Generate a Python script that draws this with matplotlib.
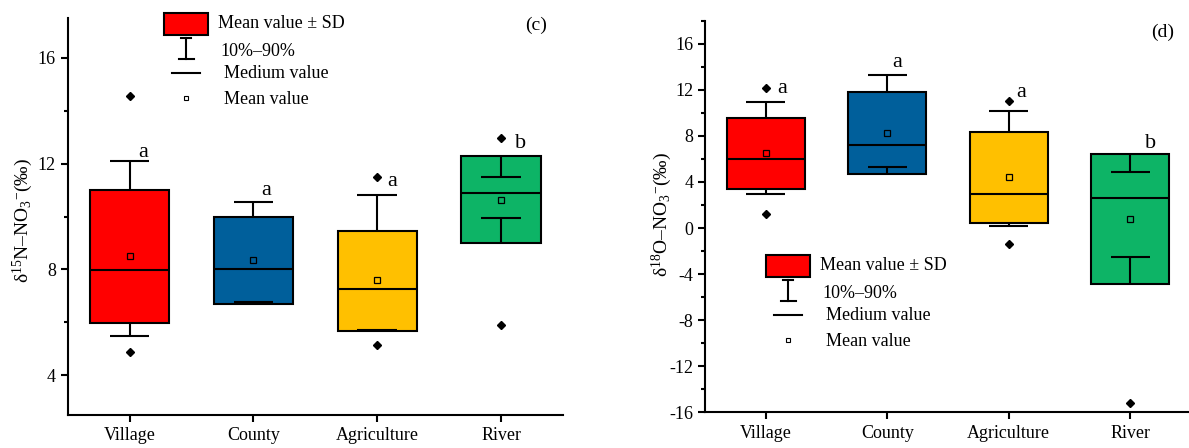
import matplotlib
matplotlib.use('Agg')
import matplotlib.pyplot as plt
from matplotlib.patches import Rectangle
from matplotlib.lines import Line2D
from matplotlib.ticker import MultipleLocator
from matplotlib.transforms import Affine2D

plt.rcParams['font.family'] = ['Liberation Serif', 'DejaVu Serif']
plt.rcParams['mathtext.fontset'] = 'custom'
plt.rcParams['mathtext.rm'] = 'Liberation Serif'
plt.rcParams['mathtext.it'] = 'Liberation Serif:italic'
plt.rcParams['axes.unicode_minus'] = False

# ---- data ----
categories = ['Village', 'County', 'Agriculture', 'River']
box_colors = ['#FF0000', '#005F9B', '#FFC000', '#0DB466']

# (c) d15N-NO3
n_q1 = [5.97, 6.71, 5.68, 8.99]
n_q3 = [11.00, 9.98, 9.47, 12.30]
n_med = [7.97, 8.03, 7.25, 10.88]
n_mean = [8.49, 8.34, 7.59, 10.63]
n_p10 = [5.49, 6.77, 5.71, 9.94]
n_p90 = [12.09, 10.55, 10.80, 11.51]
n_out = [[14.55, 4.87], [], [11.49, 5.15], [12.98, 5.91]]
n_letters = ['a', 'a', 'a', 'b']
n_letter_y = [12.26, 10.80, 11.17, 12.60]
n_letter_dx = [0.11, 0.10, 0.12, 0.16]

# (d) d18O-NO3
o_q1 = [3.36, 4.72, 0.46, -4.84]
o_q3 = [9.54, 11.83, 8.38, 6.41]
o_med = [5.97, 7.25, 2.99, 2.58]
o_mean = [6.49, 8.29, 4.41, 0.75]
o_p10 = [2.96, 5.28, 0.14, -2.55]
o_p90 = [10.96, 13.33, 10.17, 4.84]
o_out = [[12.12, 1.19], [], [10.99, -1.39], [-15.22]]
o_letters = ['a', 'a', 'a', 'b']
o_letter_y = [11.74, 13.97, 11.36, 6.96]
o_letter_dx = [0.135, 0.085, 0.105, 0.165]

W, H = 1189, 448
fig = plt.figure(figsize=(W / 100, H / 100), dpi=100)
ax1 = fig.add_axes([0.0569, 0.0737, 0.4166, 0.886])
ax2 = fig.add_axes([0.5929, 0.0797, 0.4088, 0.874])

# pixel coords (origin top-left, like the reference image)
px = Affine2D().scale(1 / W, -1 / H).translate(0, 1) + fig.transFigure

BW = 0.64   # box width
CW = 0.32   # cap width
LW = 1.5


def draw_boxes(ax, q1, q3, med, mean, p10, p90, outl, letters, ly, ldx):
    xs = list(range(1, len(categories) + 1))
    for i, x in enumerate(xs):
        ax.bar(x, q3[i] - q1[i], bottom=q1[i], width=BW, color=box_colors[i],
               edgecolor='black', linewidth=LW, zorder=2)
        # whiskers from box edge to 10/90 %
        ax.vlines(x, q3[i], p90[i], color='black', lw=LW, zorder=3)
        ax.vlines(x, q1[i], p10[i], color='black', lw=LW, zorder=3)
        ax.hlines([p10[i], p90[i]], x - CW / 2, x + CW / 2, color='black', lw=LW, zorder=3)
        ax.hlines(med[i], x - BW / 2, x + BW / 2, color='black', lw=LW, zorder=3)
        ax.plot(x, mean[i], marker='s', ms=5, mfc='none', mec='black', mew=0.9, zorder=4)
        if outl[i]:
            ax.plot([x] * len(outl[i]), outl[i], 'D', color='black', ms=4, zorder=4)
        ax.text(x + ldx[i], ly[i], letters[i], ha='center', va='baseline', fontsize=16)
    ax.set_xticks(xs)
    ax.set_xticklabels(categories, fontsize=13)
    ax.set_xlim(0.5, 4.5)
    for s in ['top', 'right']:
        ax.spines[s].set_visible(False)
    for s in ['left', 'bottom']:
        ax.spines[s].set_linewidth(LW)
    ax.tick_params(axis='both', which='major', direction='out', length=5, width=LW, labelsize=13)
    ax.tick_params(axis='x', pad=4)
    ax.tick_params(axis='y', which='minor', direction='out', length=3, width=LW)
    ax.yaxis.set_minor_locator(MultipleLocator(2))


draw_boxes(ax1, n_q1, n_q3, n_med, n_mean, n_p10, n_p90, n_out, n_letters, n_letter_y, n_letter_dx)
ax1.set_ylim(2.5, 17.5)
ax1.set_yticks([4, 8, 12, 16])
ax1.set_ylabel('δ$^{15}$N–NO$_3$$^{-}$(‰)', fontsize=14, va='center')
ax1.yaxis.set_label_coords(-0.09, 0.49)

draw_boxes(ax2, o_q1, o_q3, o_med, o_mean, o_p10, o_p90, o_out, o_letters, o_letter_y, o_letter_dx)
ax2.set_ylim(-16, 18)
ax2.set_yticks(list(range(-16, 17, 4)))
ax2.set_ylabel('δ$^{18}$O–NO$_3$$^{-}$(‰)', fontsize=14, va='center')
ax2.yaxis.set_label_coords(-0.088, 0.506)

fig.text(536, 25, '(c)', transform=px, ha='center', va='center', fontsize=14)
fig.text(1163, 32, '(d)', transform=px, ha='center', va='center', fontsize=14)


def draw_key(x0, y0):
    # x0, y0: top-left of the red rectangle in pixels
    cx = x0 + 22
    fig.add_artist(Rectangle((x0, y0), 44, 22, transform=px, facecolor='#FF0000',
                             edgecolor='black', linewidth=LW))
    fig.text(x0 + 54, y0 + 11, 'Mean value ± SD', transform=px, va='center', fontsize=13)
    fig.add_artist(Line2D([cx, cx], [y0 + 25, y0 + 46], transform=px, color='black', lw=LW))
    fig.add_artist(Line2D([cx - 5, cx + 5], [y0 + 25, y0 + 25], transform=px, color='black', lw=LW))
    fig.add_artist(Line2D([cx - 7.5, cx + 7.5], [y0 + 46, y0 + 46], transform=px, color='black', lw=LW))
    fig.text(x0 + 56, y0 + 38, '10%–90%', transform=px, va='center', fontsize=13)
    fig.add_artist(Line2D([cx - 14, cx + 14], [y0 + 60, y0 + 60], transform=px, color='black', lw=LW))
    fig.text(x0 + 60, y0 + 61, 'Medium value', transform=px, va='center', fontsize=13)
    fig.add_artist(Line2D([cx], [y0 + 85], transform=px, marker='s', ms=3.5, mfc='none',
                          mec='black', mew=0.8))
    fig.text(x0 + 60, y0 + 86, 'Mean value', transform=px, va='center', fontsize=13)


draw_key(164, 13)
draw_key(766, 255)

fig.savefig('out.png', dpi=100)
